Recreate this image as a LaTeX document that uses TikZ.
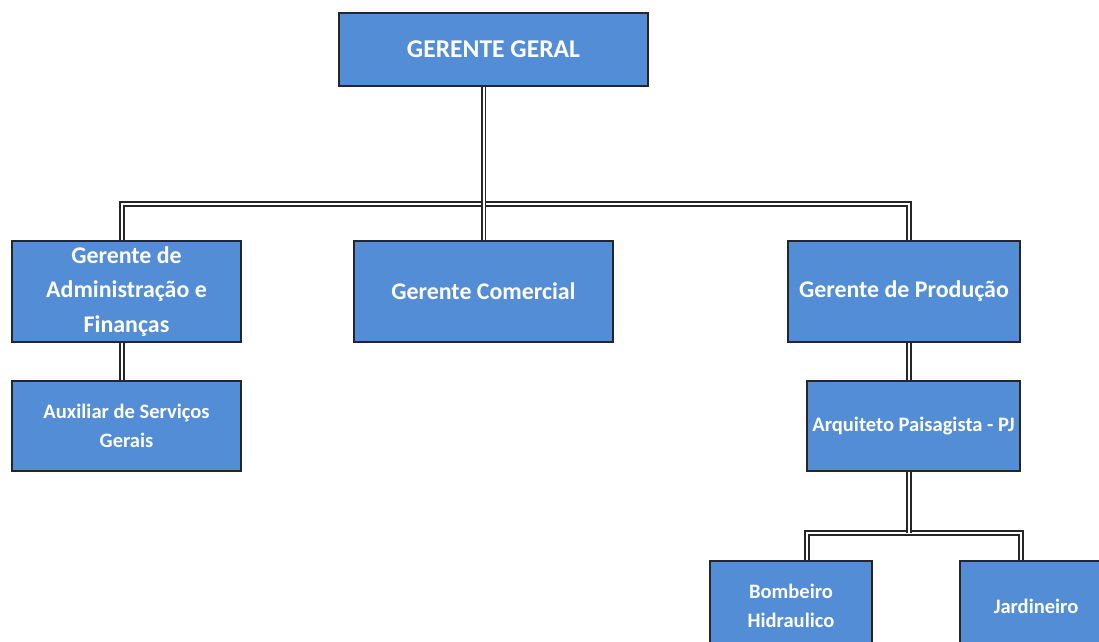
\documentclass[tikz,border=0pt]{standalone}
\usepackage{fontspec}
\setmainfont{Carlito}
\definecolor{boxblue}{RGB}{83,141,213}
\begin{document}
\begin{tikzpicture}[x=0.025cm,y=-0.025cm,
  box/.style={draw=black!85,line width=0.035cm,fill=boxblue,text=white,align=center,inner sep=0pt,font=\bfseries\fontsize{14.6}{20.5}\selectfont},
  big/.style={font=\bfseries\fontsize{17}{24.8}\selectfont},
  link/.style={draw=black!85,line width=0.04cm,double=white,double distance=0.05cm}]
\useasboundingbox (0,0) rectangle (1099,641);
\node[box,minimum width=7.725cm,minimum height=1.825cm,font=\bfseries\fontsize{18.2}{22}\selectfont] (gg) at (493.5,49.5) {GERENTE GERAL};
\node[box,big,minimum width=5.725cm,minimum height=2.525cm] (adm) at (126.5,291.5) {Gerente de\\Administração e\\Finanças};
\node[box,big,minimum width=6.475cm,minimum height=2.525cm] (com) at (483.5,291.5) {Gerente Comercial};
\node[box,big,minimum width=5.8cm,minimum height=2.525cm] (prod) at (904,291.5) {Gerente de Produção};
\node[box,minimum width=5.725cm,minimum height=2.25cm] (aux) at (126.5,426) {Auxiliar de Serviços\\Gerais};
\node[box,minimum width=5.325cm,minimum height=2.25cm] (arq) at (913.5,426) {Arquiteto Paisagista - PJ};
\node[box,minimum width=4.05cm,minimum height=2.25cm] (bomb) at (791,606) {Bombeiro\\Hidraulico};
\node[box,minimum width=3.8cm,minimum height=2.25cm] (jard) at (1036,606) {Jardineiro};
\coordinate (busL) at (122,204);
\coordinate (busR) at (909,204);
\coordinate (subL) at (807,533);
\coordinate (subR) at (1021,533);
\draw[link] (adm.north -| busL) -- (busL) -- (busR) -- (prod.north -| busR);
\draw[link] (gg.south -| com.north) -- (com.north);
\draw[link] (adm.south -| busL) -- (aux.north -| busL);
\draw[link] (prod.south -| busR) -- (arq.north -| busR);
\draw[link] (bomb.north -| subL) -- (subL) -- (subR) -- (jard.north -| subR);
\draw[link] (arq.south -| busR) -- (busR |- subL);
\end{tikzpicture}
\end{document}
